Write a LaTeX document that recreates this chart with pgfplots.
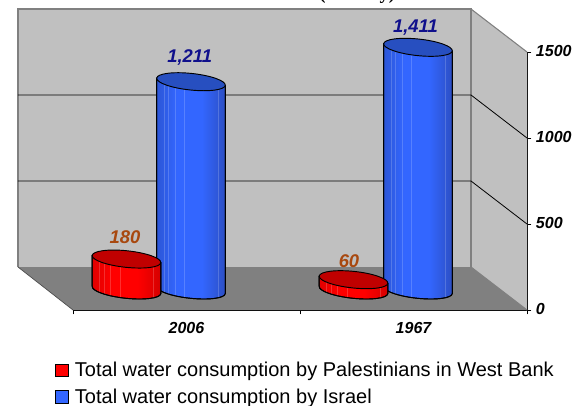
\documentclass[border=0pt]{standalone}
\usepackage{fontspec}
\setmainfont{Liberation Sans}
\newfontfamily\titlefont{Liberation Serif}
\usepackage{pgfplots}
\pgfplotsset{compat=1.18}
\definecolor{wallgray}{HTML}{C0C0C0}
\definecolor{floorgray}{HTML}{808080}
\definecolor{topblue}{HTML}{274FC0}
\definecolor{topred}{HTML}{C00000}
\definecolor{labblue}{HTML}{10108C}
\definecolor{labred}{HTML}{A8480F}
\definecolor{bl}{HTML}{2C56D6}
\definecolor{bm}{HTML}{3366FF}
\definecolor{br}{HTML}{2C4FC4}
\definecolor{rl}{HTML}{E00000}
\definecolor{rm}{HTML}{FF0000}
\definecolor{rr}{HTML}{D40000}
\pgfdeclarehorizontalshading{cylblueshade}{100bp}{color(0bp)=(bl);color(25bp)=(bl);color(40bp)=(bm);color(58bp)=(bm);color(75bp)=(br);color(100bp)=(br)}
\pgfdeclarehorizontalshading{cylredshade}{100bp}{color(0bp)=(rl);color(25bp)=(rl);color(40bp)=(rm);color(58bp)=(rm);color(75bp)=(rr);color(100bp)=(rr)}
% a tilted ellipse around (0,#1), written out as four curves
\newcommand\ellpath[1]{(34.31,#1-3.61)
  .. controls (34.79,#1+0.947) and (19.82,#1+6.256) .. (0.868,#1+8.25)
  .. controls (-18.08,#1+10.244) and (-33.83,#1+8.167) .. (-34.31,#1+3.61)
  .. controls (-34.79,#1-0.947) and (-19.82,#1-6.256) .. (-0.868,#1-8.25)
  .. controls (18.08,#1-10.244) and (33.83,#1-8.167) .. (34.31,#1-3.61) -- cycle}
% side of the cylinder: down the left edge, along the lower half of the base, up the right edge
\newcommand\sidepath[1]{(-34.31,3.61) -- (-34.31,#1+3.61)
  .. controls (-34.79,#1-0.947) and (-19.82,#1-6.256) .. (-0.868,#1-8.25)
  .. controls (18.08,#1-10.244) and (33.83,#1-8.167) .. (34.31,#1-3.61) -- (34.31,-3.61)}
\newcommand\cylinder[2]{%
  \begin{scope}[x=.75pt,y=.75pt,line width=.7pt,draw=black,solid]
    \pgfmathsetmacro\H{\val*0.172}
    \shade[shading=#1] \sidepath{-\H} -- cycle;
    \draw[white,opacity=.18,line width=.4pt]
      (-27,0) -- (-27,-\H-2.4) (-22.5,0) -- (-22.5,-\H-3.9) (-16,0) -- (-16,-\H-5.7)
      (-6.5,0) -- (-6.5,-\H-7.5) (27,0) -- (27,-\H-8);
    \draw \sidepath{-\H};
    \filldraw[fill=#2] \ellpath{0};
  \end{scope}%
}
\pgfdeclareplotmark{cylblue}{\cylinder{cylblueshade}{topblue}}
\pgfdeclareplotmark{cylred}{\cylinder{cylredshade}{topred}}
% x: category index (0 = 2006, 1 = 1967) with the side-by-side offset of the cylinder
% dx, dy: offset of the value label from the top of the cylinder, in pt
\pgfplotstableread{
x y dx dy
0.142 1211 -1 18
1.142 1411 -1.9 14.6
}\israel
\pgfplotstableread{
x y dx dy
-0.142 180 -1.1 16.1
0.858 60 -3.4 14
}\palestine
\begin{document}
\begin{tikzpicture}
\useasboundingbox (0,0) rectangle (429.75pt,303.75pt);
\node[anchor=base east,inner sep=0pt,font=\titlefont\bfseries\fontsize{14}{16}\selectfont] at (296.5pt,304pt) {Water uses (MCM/y)};
% frame: walls, floor and the axis with its ticks
\begin{axis}[
  at={(54.75pt,71.25pt)},anchor=south west,
  scale only axis,width=340.5pt,height=193.5pt,
  xmin=0,xmax=2,ymin=0,ymax=1500,clip=false,
  axis x line*=bottom,axis y line*=right,
  axis line style={-,black,line width=.7pt},
  xtick={0,1,2},xticklabels={2006,1967},x tick label as interval,
  ytick={0,500,1000,1500},
  tick align=outside,major tick length=3.2pt,
  tick style={black,line width=.7pt},
  tick label style={font=\bfseries\itshape\fontsize{12}{14}\selectfont},
  /pgf/number format/assume math mode=true,
  /pgf/number format/1000 sep={},
  xticklabel style={yshift=-2.8pt},
  yticklabel style={xshift=0pt,yshift=.7pt},
]
\fill[wallgray] (axis cs:-0.2423,250) rectangle (axis cs:1.7533,1750);
\fill[wallgray] (axis cs:1.7533,250) -- (axis cs:2,0) -- (axis cs:2,1500) -- (axis cs:1.7533,1750) -- cycle;
\fill[floorgray] (axis cs:-0.2423,250) -- (axis cs:1.7533,250) -- (axis cs:2,0) -- (axis cs:0,0) -- cycle;
\draw[floorgray,line width=1.1pt] (axis cs:-0.2423,250) -- (axis cs:-0.2423,1750) -- (axis cs:1.7533,1750) -- (axis cs:1.7533,250);
\draw[floorgray,line width=.8pt] (axis cs:1.7533,1750) -- (axis cs:2,1500);
\draw[floorgray,line width=.8pt] (axis cs:1.7533,250) -- (axis cs:2,0);
\draw[black!70,line width=.5pt] (axis cs:-0.2423,250) -- (axis cs:0,0);
\foreach \v/\w in {750/500,1250/1000}{
  \edef\temp{\noexpand\draw[black,line width=.6pt] (axis cs:-0.2423,\v) -- (axis cs:1.7533,\v) -- (axis cs:2,\w);}
  \temp
}
\end{axis}
% cylinders
\begin{axis}[
  at={(33.94pt,86.25pt)},anchor=south west,
  scale only axis,width=340.5pt,height=193.5pt,
  xmin=-0.5,xmax=1.5,ymin=0,ymax=1500,clip=false,
  hide axis,
  /pgf/number format/assume math mode=true,
  /pgf/number format/1000 sep={,},
  visualization depends on={rawy \as \val},
  visualization depends on={\thisrow{dx} \as \dx},
  visualization depends on={\thisrow{dy} \as \dy},
  legend style={at={(0.0215,-0.2695)},anchor=north west,draw=none,fill=none,inner sep=0pt,
    font=\fontsize{15}{16}\selectfont,row sep=3.6pt,cells={anchor=west}},
  legend cell align=left,
]
\addplot[forget plot,scatter,only marks,mark=cylblue,point meta=y,
  nodes near coords,
  every node near coord/.style={anchor=center,yshift=\dy pt,xshift=\dx pt,text=labblue,
    font=\bfseries\itshape\fontsize{13.8}{15}\selectfont}]
  table[x=x,y=y] {\israel};
\addplot[forget plot,scatter,only marks,mark=cylred,point meta=y,
  nodes near coords,
  every node near coord/.style={anchor=center,yshift=\dy pt,xshift=\dx pt,text=labred,
    font=\bfseries\itshape\fontsize{13.8}{15}\selectfont}]
  table[x=x,y=y] {\palestine};
\addlegendimage{legend image code/.code={\draw[fill=red,draw=black,line width=.7pt] (0pt,-4.6pt) rectangle (9.75pt,5pt);}}
\addlegendentry{\hspace{2.3pt}Total water consumption by Palestinians in West Bank}
\addlegendimage{legend image code/.code={\draw[fill=bm,draw=black,line width=.7pt] (0pt,-4.6pt) rectangle (9.75pt,5pt);}}
\addlegendentry{\hspace{2.3pt}Total water consumption by Israel}
\end{axis}
\end{tikzpicture}
\end{document}
